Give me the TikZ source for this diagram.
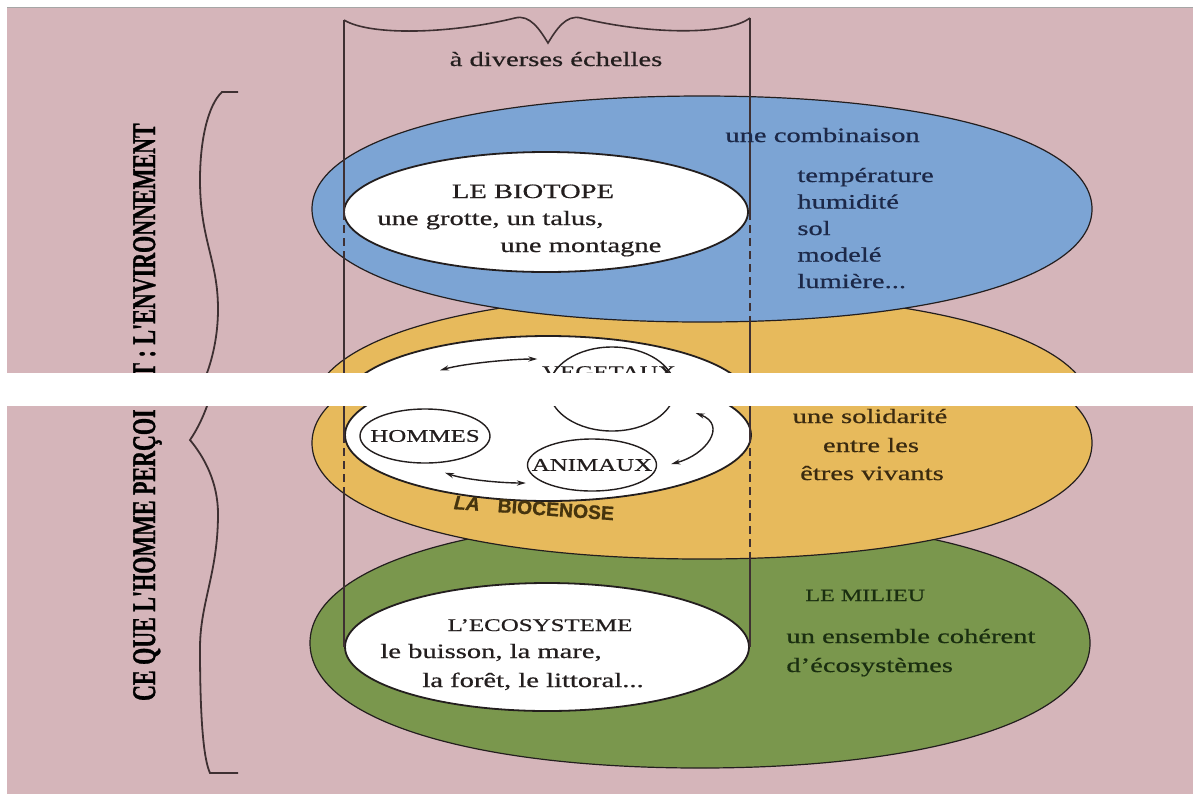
\documentclass[tikz,border=0pt]{standalone}
\usepackage{fontspec}
\setmainfont{Liberation Serif}[FakeStretch=1.4,FakeBold=0.6]
\newfontfamily\vertfont{Liberation Serif}[FakeBold=1.2]
\newfontfamily\biofont{Liberation Sans}[FakeBold=0.8]
\usetikzlibrary{shapes.geometric,arrows.meta}
\definecolor{bgpink}{RGB}{213,181,186}
\definecolor{discblue}{RGB}{124,164,212}
\definecolor{discyellow}{RGB}{231,186,92}
\definecolor{discgreen}{RGB}{122,151,77}
\definecolor{inkline}{RGB}{62,48,50}
\definecolor{inkdark}{RGB}{35,30,30}
\definecolor{inkblue}{RGB}{28,40,72}
\definecolor{inkbrown}{RGB}{58,42,16}
\definecolor{inkgreen}{RGB}{26,46,16}
\definecolor{inkbio}{RGB}{70,52,14}
\tikzset{
 blob/.style n args={5}{insert path={({#1+#3},{#2}) .. controls ({#1+#3},{#2+#5*#4}) and ({#1+#5*#3},{#2+#4}) .. ({#1},{#2+#4}) .. controls ({#1-#5*#3},{#2+#4}) and ({#1-#3},{#2+#5*#4}) .. ({#1-#3},{#2}) .. controls ({#1-#3},{#2-#5*#4}) and ({#1-#5*#3},{#2-#4}) .. ({#1},{#2-#4}) .. controls ({#1+#5*#3},{#2-#4}) and ({#1+#3},{#2-#5*#4}) .. ({#1+#3},{#2}) -- cycle}},
 disc/.style={draw=inkdark, line width=0.6pt},
 sect/.style={fill=white, draw=inkdark, line width=0.9pt},
 cyl/.style={draw=inkline, line width=0.8pt},
 cyldash/.style={cyl, dash pattern=on 4pt off 2.5pt},
 smallell/.style={ellipse, draw=inkdark, line width=0.7pt, inner sep=0pt, fill=white},
 dbl/.style={{Stealth[length=4.5pt,width=2.6pt]}-{Stealth[length=4.5pt,width=2.6pt]}, draw=inkdark, line width=0.7pt},
 body/.style={font=\fontsize{10.2}{12}\selectfont, inner sep=0pt},
 capsA/.style={font=\fontsize{10.2}{12}\selectfont, inner sep=0pt},
 capsB/.style={font=\fontsize{8.9}{10}\selectfont, inner sep=0pt},
}
\newcommand\vtext[1]{\scalebox{1.5}[1]{\rotatebox{90}{\smash{\vertfont\bfseries\fontsize{11}{12}\selectfont #1}}}}
% shapes drawn in the coordinates of the picture without the white band
\newcommand\shapeslayer{%
 \fill[discgreen, disc, blob={700}{610}{390}{125}{0.6}];
 \fill[discyellow, disc, blob={702}{410}{390}{116}{0.6}];
 \fill[discblue, disc, blob={702}{209}{390}{113}{0.6}];
 \path[sect, blob={546}{212}{202}{60}{0.552}];
 \path[sect, blob={548}{402}{203}{66}{0.552}];
 \path[sect, blob={547}{614}{202}{64}{0.552}];
 % cylinder
 \draw[cyl] (344,20) -- (344,212);
 \draw[cyl] (750,18) -- (750,212);
 \begin{scope}[even odd rule]
  \clip[blob={702}{209}{390}{113}{0.6}] (-20,-20) rectangle (1300,900);
  \draw[cyl] (344,212) -- (344,402);
  \draw[cyl] (750,212) -- (750,402);
 \end{scope}
 \begin{scope}
  \clip[blob={702}{209}{390}{113}{0.6}];
  \draw[cyldash] (344,212) -- (344,402);
  \draw[cyldash] (750,212) -- (750,402);
 \end{scope}
 \begin{scope}[even odd rule]
  \clip[blob={702}{410}{390}{116}{0.6}] (-20,-20) rectangle (1300,900);
  \draw[cyl] (344,402) -- (344,614);
  \draw[cyl] (750,402) -- (750,614);
 \end{scope}
 \begin{scope}
  \clip[blob={702}{410}{390}{116}{0.6}];
  \draw[cyldash] (344,402) -- (344,614);
  \draw[cyldash] (750,402) -- (750,614);
 \end{scope}
 % left brace
 \draw[cyl, line width=0.9pt] (238,92) -- (222,92) .. controls (208,105) and (200,140) .. (200,180)
   .. controls (200,240) and (218,260) .. (218,309)
   .. controls (218,350) and (205,385) .. (190,407)
   .. controls (205,425) and (218,450) .. (218,481)
   .. controls (218,540) and (200,570) .. (200,615)
   .. controls (200,680) and (203,725) .. (210,740) -- (238,740);
}
\begin{document}
\begin{tikzpicture}[x=0.5pt,y=-0.5pt]
\useasboundingbox (0,0) rectangle (1193,794);
\fill[white] (0,0) rectangle (1193,794);
\fill[bgpink] (7,7) rectangle (1193,794);
\draw[gray!70, line width=0.5pt] (7,7) -- (1193,7);
% upper part (above the white band)
\begin{scope}
 \clip (-20,-20) rectangle (1300,373);
 \shapeslayer
\end{scope}
% lower part (below the white band), shifted down
\begin{scope}[shift={(0,33)}]
 \clip (-20,373) rectangle (1300,900);
 \shapeslayer
\end{scope}
% top wavy edge of the cylinder
\draw[cyl] (344,20) .. controls (370,36) and (450,34) .. (515,18)
  .. controls (530,14) and (540,30) .. (548,43)
  .. controls (556,30) and (566,14) .. (581,18)
  .. controls (646,34) and (726,36) .. (750,18);
\node[body, text=inkdark, anchor=base] (scale) at (556,66) {à diverses échelles};
% biotope
\node[capsA, text=inkdark, anchor=base] (biot) at (533,198) {LE BIOTOPE};
\node[body, text=inkdark, anchor=base west] (biot2) at (377,225) {une grotte, un talus,};
\node[body, text=inkdark, anchor=base west] (biot3) at (500,252) {une montagne};
\node[body, text=inkblue, anchor=base west] (comb) at (725,142) {une combinaison};
\node[body, text=inkblue, anchor=base west] (f1) at (797,182) {température};
\node[body, text=inkblue, anchor=base west] (f2) at (797,208.5) {humidité};
\node[body, text=inkblue, anchor=base west] (f3) at (797,235) {sol};
\node[body, text=inkblue, anchor=base west] (f4) at (797,261.5) {modelé};
\node[body, text=inkblue, anchor=base west] (f5) at (797,288) {lumière...};
% biocenose
\node[smallell, minimum width=63pt, minimum height=42pt] (veg) at (612,389) {};
\node[smallell, minimum width=65pt, minimum height=27pt] (hom) at (425,436) {};
\node[smallell, minimum width=64.5pt, minimum height=26pt] (ani) at (592,465) {};
\node[capsB, text=inkdark] (homt) at (hom) {HOMMES};
\node[capsB, text=inkdark] (anit) at (ani) {ANIMAUX};
\node[capsB, text=inkdark, anchor=base] (vegt) at (609,378) {VEGETAUX};
\draw[dbl] ([shift={(15,-38)}]hom.north) .. controls +(25,-7) and +(-25,0) .. ([shift={(-11,-30)}]veg.west);
\draw[dbl] ([shift={(20,24)}]veg.east) .. controls +(32,12) and +(35,-9) .. ([shift={(14,-1)}]ani.east);
\draw[dbl] ([shift={(20,9)}]hom.south) .. controls +(20,7) and +(-25,0) .. ([shift={(-1,18)}]ani.west);
\node[font=\biofont\bfseries\fontsize{9.7}{10}\selectfont, text=inkbio, inner sep=0pt, rotate=-4] (bioc) at (534,508) {\textit{LA}\hspace{9pt}BIOCENOSE};
\node[body, text=inkbrown, anchor=base] (s1) at (870,423) {une solidarité};
\node[body, text=inkbrown, anchor=base] (s2) at (871,452) {entre les};
\node[body, text=inkbrown, anchor=base] (s3) at (872,480) {êtres vivants};
% ecosysteme / milieu
\node[capsB, text=inkdark, anchor=base] (eco) at (540,631) {L'ECOSYSTEME};
\node[body, text=inkdark, anchor=base west] (eco2) at (380,658) {le buisson, la mare,};
\node[body, text=inkdark, anchor=base west] (eco3) at (422,687) {la forêt, le littoral...};
\node[font=\fontsize{8.6}{10}\selectfont, inner sep=0pt, text=inkgreen, anchor=base west] (mil) at (805,601) {LE MILIEU};
\node[body, text=inkgreen, anchor=base west] (mil2) at (786,643) {un ensemble cohérent};
\node[body, text=inkgreen, anchor=base west] (mil3) at (786,672) {d'écosystèmes};
% vertical title
\node[inner sep=0pt, anchor=north] (vt1) at (155,409) {\vtext{CE QUE L'HOMME PERÇOI}};
\node[inner sep=0pt, anchor=south] (vt2) at (155,378) {\vtext{T : L'ENVIRONNEMENT}};
% white band of the scan
\fill[white] (0,373) rectangle (1193,406);
\end{tikzpicture}
\end{document}
